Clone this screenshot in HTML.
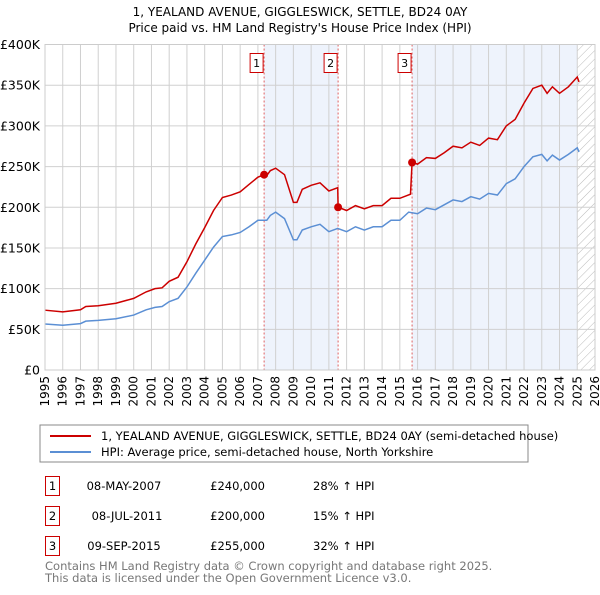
<!DOCTYPE html>
<html><head><meta charset="utf-8"><style>
body{margin:0;background:#fff;font-family:"Liberation Sans","DejaVu Sans",sans-serif;}
svg text{font-family:"DejaVu Sans","Liberation Sans",sans-serif;}
</style></head><body>
<svg id="c" width="600" height="590" xmlns="http://www.w3.org/2000/svg">
<text x="300" y="16" text-anchor="middle" font-size="12">1, YEALAND AVENUE, GIGGLESWICK, SETTLE, BD24 0AY</text>
<text x="300" y="32" text-anchor="middle" font-size="12">Price paid vs. HM Land Registry's House Price Index (HPI)</text>
<defs><pattern id="hatch" width="6" height="6" patternUnits="userSpaceOnUse" patternTransform="rotate(45)"><line x1="0" y1="0" x2="0" y2="6" stroke="#bbb" stroke-width="1"/></pattern></defs>
<g id="plot"></g>
<rect x="40" y="425" width="488" height="37" fill="#fff" stroke="#888"/>
<line x1="50" y1="436" x2="91" y2="436" stroke="#cc0000" stroke-width="2"/>
<text x="101" y="440" font-size="11.5">1, YEALAND AVENUE, GIGGLESWICK, SETTLE, BD24 0AY (semi-detached house)</text>
<line x1="50" y1="452" x2="91" y2="452" stroke="#5b8fd4" stroke-width="2"/>
<text x="101" y="456" font-size="11.5">HPI: Average price, semi-detached house, North Yorkshire</text>
<g font-size="11.5">
<rect x="45.5" y="476.5" width="14" height="19" fill="none" stroke="#cc0000"/><text x="52.5" y="490" text-anchor="middle">1</text>
<text x="124" y="490" text-anchor="middle">08-MAY-2007</text><text x="265" y="490" text-anchor="end">£240,000</text><text x="313" y="490">28% ↑ HPI</text>
<rect x="45.5" y="506.5" width="14" height="19" fill="none" stroke="#cc0000"/><text x="52.5" y="520" text-anchor="middle">2</text>
<text x="127" y="520" text-anchor="middle">08-JUL-2011</text><text x="265" y="520" text-anchor="end">£200,000</text><text x="313" y="520">15% ↑ HPI</text>
<rect x="45.5" y="536.5" width="14" height="19" fill="none" stroke="#cc0000"/><text x="52.5" y="550" text-anchor="middle">3</text>
<text x="124" y="550" text-anchor="middle">09-SEP-2015</text><text x="265" y="550" text-anchor="end">£255,000</text><text x="313" y="550">32% ↑ HPI</text>
</g>
<text x="45" y="570" font-size="11.5" fill="#777">Contains HM Land Registry data © Crown copyright and database right 2025.</text>
<text x="45" y="582" font-size="11.5" fill="#777">This data is licensed under the Open Government Licence v3.0.</text>
</svg>
<script>
const hpiYears=[1995,1996,1997,1997.3,1998,1999,2000,2000.7,2001.2,2001.6,2002,2002.5,2003,2003.5,2004,2004.5,2005,2005.5,2006,2006.5,2007,2007.5,2007.7,2008,2008.5,2009,2009.2,2009.5,2010,2010.5,2011,2011.5,2012,2012.5,2013,2013.5,2014,2014.5,2015,2015.5,2016,2016.5,2017,2017.5,2018,2018.5,2019,2019.5,2020,2020.5,2021,2021.5,2022,2022.5,2023,2023.3,2023.6,2024,2024.5,2025,2025.1];
const hpiValues=[56.5,55,57,60,61,63,67.5,74,77,78,84,88,102,119,135,151,164,166,169,176,184,184,190,194,186,160,160,172,176,179,170,174,170,176,172,176,176,184,184,194,192,199,197,203,209,207,213,210,217,215,229,235,250,262,265,257,264,258,265,273,268];
const redYears=[1995,1996,1997,1997.3,1998,1999,2000,2000.7,2001.2,2001.6,2002,2002.5,2003,2003.5,2004,2004.5,2005,2005.5,2006,2006.5,2007,2007.35,2007.5,2007.7,2008,2008.5,2009,2009.2,2009.5,2010,2010.5,2011,2011.5,2011.52,2012,2012.5,2013,2013.5,2014,2014.5,2015,2015.6,2015.69,2016,2016.5,2017,2017.5,2018,2018.5,2019,2019.5,2020,2020.5,2021,2021.5,2022,2022.5,2023,2023.3,2023.6,2024,2024.5,2025,2025.1];
const redValues=[73.5,71.5,74,78,79,82,88,96,100,101,109,114,133,155,175,196,212,215,219,228,237,240,239,245,248,240,206,206,222,227,230,220,224,200,196,202,198,202,202,211,211,216,255,253,261,260,267,275,273,280,276,285,283,300,308,328,346,350,340,348,340,348,360,354];
const saleYears=[2007.35,2011.52,2015.69];
const saleValues=[240,200,255];
const yTicks=[0,50,100,150,200,250,300,350,400];
const yTickLabels=["£0","£50K","£100K","£150K","£200K","£250K","£300K","£350K","£400K"];
const xTicks=[1995,1996,1997,1998,1999,2000,2001,2002,2003,2004,2005,2006,2007,2008,2009,2010,2011,2012,2013,2014,2015,2016,2017,2018,2019,2020,2021,2022,2023,2024,2025,2026];
const X0=45,X1=595,Y0=370,Y1=44.5;
const sx=y=>X0+(y-1995)/31*(X1-X0);
const sy=v=>Y0-v/400*(Y0-Y1);
const NS="http://www.w3.org/2000/svg";
const g=document.getElementById('plot');
function mk(t,a){const e=document.createElementNS(NS,t);for(const k in a)e.setAttribute(k,a[k]);g.appendChild(e);return e;}
let e;
e=mk('rect',{x:sx(saleYears[0]),y:Y1,width:sx(saleYears[1])-sx(saleYears[0]),height:Y0-Y1,fill:'#eef3fc'});


e=mk('rect',{x:sx(saleYears[2]),y:Y1,width:sx(2025)-sx(saleYears[2]),height:Y0-Y1,fill:'#eef3fc'});


e=mk('rect',{x:sx(2025),y:Y1,width:X1-sx(2025),height:Y0-Y1,fill:'url(#hatch)'});


xTicks.forEach(t=>{
 e=mk('line',{x1:sx(t),x2:sx(t),y1:Y1,y2:Y0,stroke:'#d0d0d0','stroke-width':1});
 
 
 e=mk('text',{x:0,y:0,'font-size':12,'text-anchor':'end',transform:`translate(${sx(t)+4},${Y0+6}) rotate(-90)`});
 e.textContent=t;
 
 
});
yTicks.forEach((t,i)=>{
 e=mk('line',{x1:X0,x2:X1,y1:sy(t),y2:sy(t),stroke:'#d0d0d0','stroke-width':1});
 
 
 e=mk('text',{x:X0-5,y:sy(t)+4.5,'font-size':12.5,'text-anchor':'end'});
 e.textContent=yTickLabels[i];
 
 
});
saleYears.forEach((s,i)=>{
 e=mk('line',{x1:sx(s),x2:sx(s),y1:Y1,y2:Y0,stroke:'#e06060','stroke-width':1,'stroke-dasharray':'2,2'});
 
 
 e=mk('rect',{x:sx(s)-14,y:53.5,width:13,height:19,fill:'#fff',stroke:'#cc0000'});
 
 
 e=mk('text',{x:sx(s)-7.5,y:67,'font-size':11,'text-anchor':'middle'});
 e.textContent=i+1;
 
 
});
e=mk('polyline',{points:hpiYears.map((y,i)=>sx(y)+','+sy(hpiValues[i])).join(' '),fill:'none',stroke:'#5b8fd4','stroke-width':1.5});


e=mk('polyline',{points:redYears.map((y,i)=>sx(y)+','+sy(redValues[i])).join(' '),fill:'none',stroke:'#cc0000','stroke-width':1.5});


saleYears.forEach((s,i)=>{
 e=mk('circle',{cx:sx(s),cy:sy(saleValues[i]),r:4,fill:'#cc0000'});
 
 
});
e=mk('rect',{x:X0,y:Y1,width:X1-X0,height:Y0-Y1,fill:'none',stroke:'#ccc'});


</script>
</body></html>
